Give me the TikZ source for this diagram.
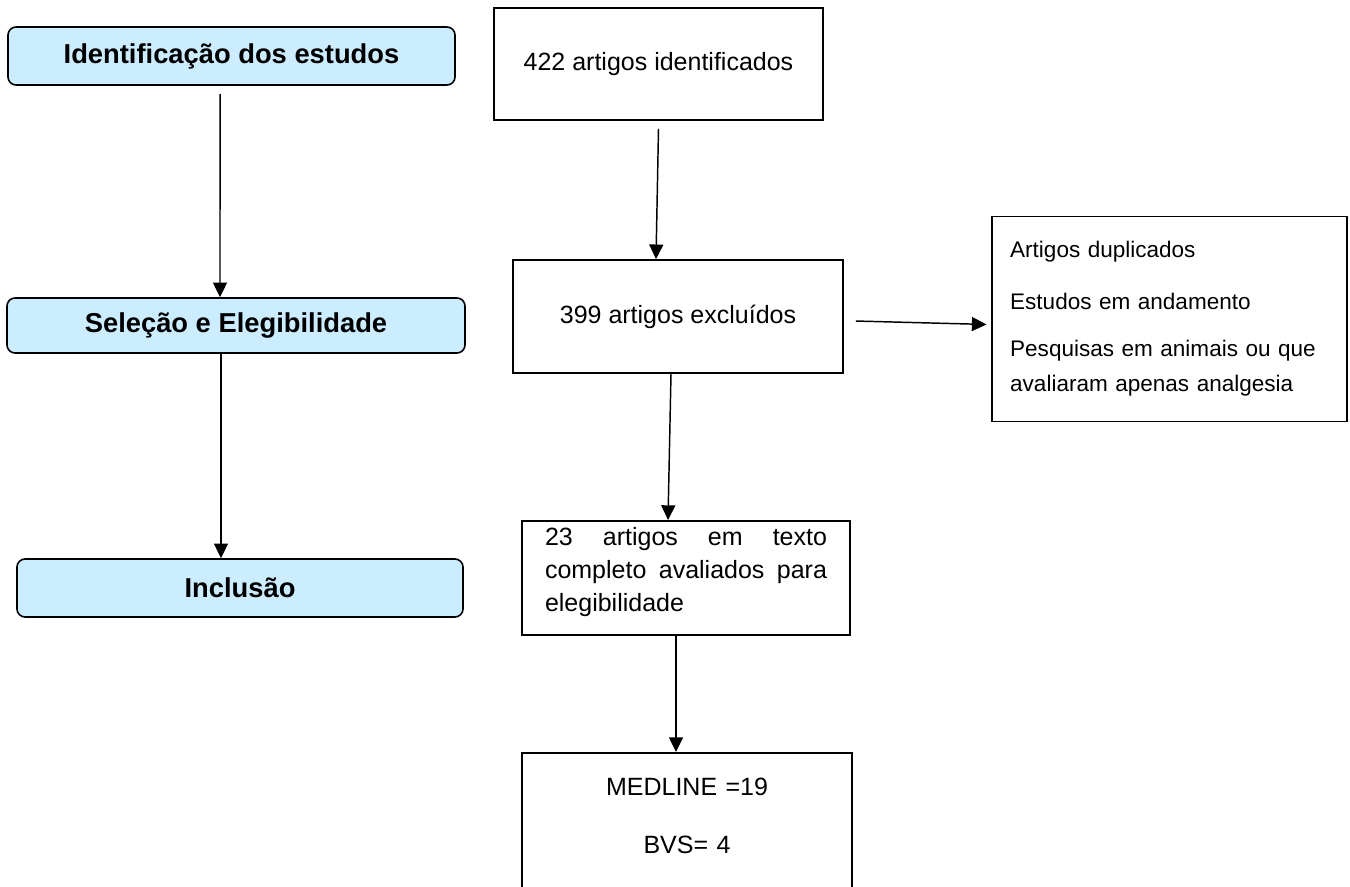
\documentclass[tikz,border=0pt]{standalone}
\usepackage{fontspec}
\setmainfont{Liberation Sans}
\usetikzlibrary{arrows.meta}
\definecolor{ink}{HTML}{000000}
\definecolor{stage}{HTML}{CCECFF}
\tikzset{
  stagebox/.style={draw=ink,fill=stage,rounded corners=6pt,line width=1.2pt,align=center,font=\fontsize{20.5}{24}\selectfont\bfseries,inner sep=0pt},
  countbox/.style={draw=ink,fill=white,line width=1.2pt,align=center,font=\fontsize{18.75}{24.75}\selectfont,inner sep=0pt},
  notebox/.style={countbox,font=\fontsize{16.9}{26.25}\selectfont,align=left},
  arrow/.style={-{Triangle[length=11pt,width=10.5pt]},line width=1.1pt,draw=ink}
}

\begin{document}
\begin{tikzpicture}[x=0.75pt,y=-0.75pt]
    \useasboundingbox (0,0) rectangle (1350,887);
    \clip (0,0) rectangle (1350,887);

    % etapas
    \node[stagebox,minimum width=335.25pt,minimum height=43.5pt] (ident) at (231.5,56) {Identificação dos estudos};
    \node[stagebox,minimum width=343.5pt,minimum height=41.25pt] (selec) at (236,325.5) {Seleção e Elegibilidade};
    \node[stagebox,minimum width=334.5pt,minimum height=43.5pt] (incl) at (240,588) {Inclusão};

    % fluxo dos artigos
    \node[countbox,minimum width=246.75pt,minimum height=84pt] (found) at (658.5,64) {422 artigos identificados};
    \node[countbox,minimum width=247.5pt,minimum height=84.75pt] (excl) at (678,316.5) {399 artigos excluídos};
    \node[notebox,minimum width=266.25pt,minimum height=153.75pt,text width=239pt] (reasons) at (1169.5,319)
      {Artigos duplicados\\[13pt]Estudos em andamento\\[9pt]Pesquisas em animais ou que\\avaliaram apenas analgesia};
    \node[countbox,anchor=north,align=justify,text width=211.5pt,minimum width=246pt,text height=18.5pt,text depth=67pt] (full) at (686,520)
      {23 artigos em texto\linebreak completo avaliados para\linebreak elegibilidade};
    \node[countbox,anchor=north,text width=247.5pt,text height=32pt,text depth=100pt] (dbs) at (687,752)
      {MEDLINE =19\\[18.75pt]BVS= 4};

    \draw[arrow] ([xshift=-8.6pt,yshift=-6pt]ident.south) -- ([xshift=-12pt]selec.north);
    \draw[arrow] ([xshift=-11.25pt]selec.south) -- ([xshift=-14.25pt]incl.north);
    \draw[arrow] ([yshift=-6pt]found.south) -- ([xshift=-16.5pt]excl.north);
    \draw[arrow] ([xshift=9pt,yshift=-3.4pt]excl.east) -- ([xshift=-3.5pt,yshift=-4.1pt]reasons.west);
    \draw[arrow] ([xshift=-5.25pt]excl.south) -- ([xshift=-13.5pt]full.north);
    \draw[arrow] ([xshift=-7.5pt]full.south) -- ([xshift=-8.25pt]dbs.north);
  \end{tikzpicture}
\end{document}
